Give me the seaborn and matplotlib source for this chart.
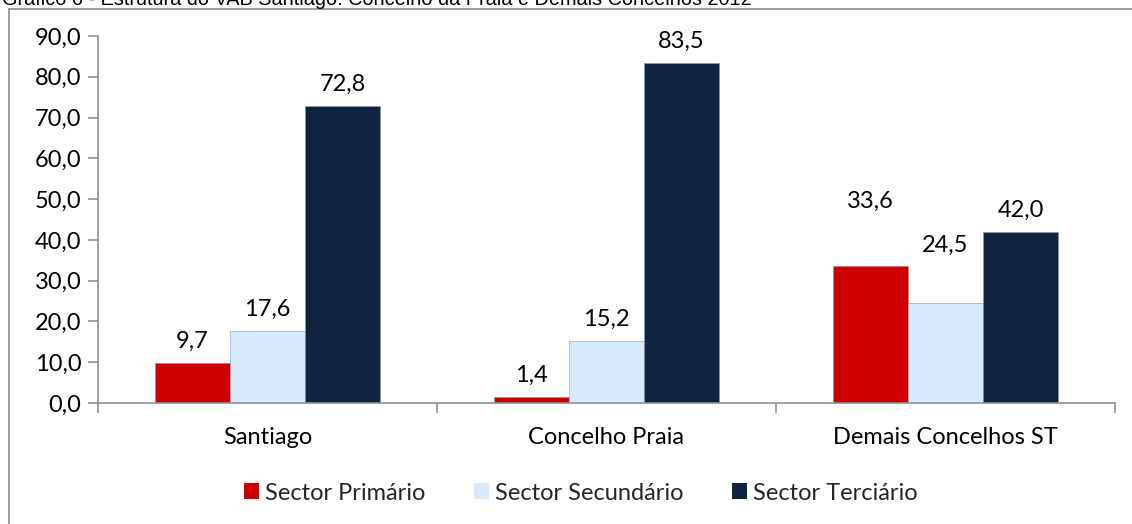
import matplotlib
matplotlib.use("Agg")
import matplotlib.pyplot as plt
import seaborn as sns
import pandas as pd
from matplotlib.lines import Line2D
from matplotlib.patches import Patch

categories = ["Santiago", "Concelho Praia", "Demais Concelhos ST"]
series = ["Sector Primário", "Sector Secundário", "Sector Terciário"]
primario = [9.7, 1.4, 33.6]
secundario = [17.6, 15.2, 24.5]
terciario = [72.8, 83.5, 42.0]
colors = ["#CC0000", "#D6EAFB", "#10243F"]
title = "Gráfico 6 - Estrutura do VAB Santiago: Concelho da Praia e Demais Concelhos 2012"

rows = []
for s, vals in zip(series, [primario, secundario, terciario]):
    for c, v in zip(categories, vals):
        rows.append({"cat": c, "serie": s, "valor": v})
df = pd.DataFrame(rows)

sns.set_theme(style="white")
plt.rcParams["font.family"] = ["Lato", "DejaVu Sans"]
FS = 17

fig = plt.figure(figsize=(11.32, 5.24), dpi=100)
ax = fig.add_axes([98/1132, 1 - 403/524, (1115 - 98)/1132, (403 - 36)/524])

sns.barplot(data=df, x="cat", y="valor", hue="serie", order=categories,
            hue_order=series, palette=colors, width=0.664, saturation=1,
            edgecolor="#8899AA", linewidth=0.4, ax=ax, legend=False)

ax.set_ylim(0, 90)
ax.set_xlim(-0.5, 2.5)
ax.set_yticks(range(0, 91, 10))
ax.set_yticklabels([f"{v:.1f}".replace(".", ",") for v in range(0, 91, 10)], fontsize=FS)
ax.set_xticks(range(3))
ax.set_xticklabels(categories, fontsize=FS)
ax.set_xticks([-0.5, 0.5, 1.5, 2.5], minor=True)
ax.tick_params(axis="x", which="major", length=0, pad=17, colors="black")
ax.tick_params(axis="x", which="minor", length=7, direction="out", color="#909090", width=1.2, bottom=True)
ax.tick_params(axis="y", length=7, direction="out", color="#909090", width=1.2, left=True, pad=5, colors="black")
ax.set_xlabel("")
ax.set_ylabel("")
for sp in ["top", "right"]:
    ax.spines[sp].set_visible(False)
for sp in ["left", "bottom"]:
    ax.spines[sp].set_color("#909090")
    ax.spines[sp].set_linewidth(1.2)

# data labels
extra = {("Sector Primário", 2): 31, ("Sector Secundário", 2): 26}
for cont, s in zip(ax.containers, series):
    for i, bar in enumerate(cont):
        h = bar.get_height()
        off = 8 + extra.get((s, i), 0)
        ax.annotate(f"{h:.1f}".replace(".", ","),
                    (bar.get_x() + bar.get_width() / 2, h),
                    xytext=(0, off), textcoords="offset points",
                    ha="center", va="bottom", fontsize=FS, color="black")

handles = [Patch(facecolor=c, edgecolor="none") for c in colors]
fig.legend(handles, series, loc="center", bbox_to_anchor=(580.5/1132, 1 - 493/524),
           ncol=3, frameon=False, fontsize=FS, handlelength=0.64, handleheight=0.64,
           handletextpad=0.25, columnspacing=2.06, borderpad=0)

# outer chart frame (left and top)
fig.add_artist(Line2D([8.5/1132, 8.5/1132], [0, 1 - 9/524], color="#8C8C8C", lw=1.2))
fig.add_artist(Line2D([8.5/1132, 1], [1 - 9/524, 1 - 9/524], color="#8C8C8C", lw=1.2))

fig.text(2/1132, 1 - 5/524, title, fontsize=14.3, family=["Liberation Sans", "DejaVu Sans"],
         ha="left", va="baseline", color="black")

fig.savefig("out.png", dpi=100)
